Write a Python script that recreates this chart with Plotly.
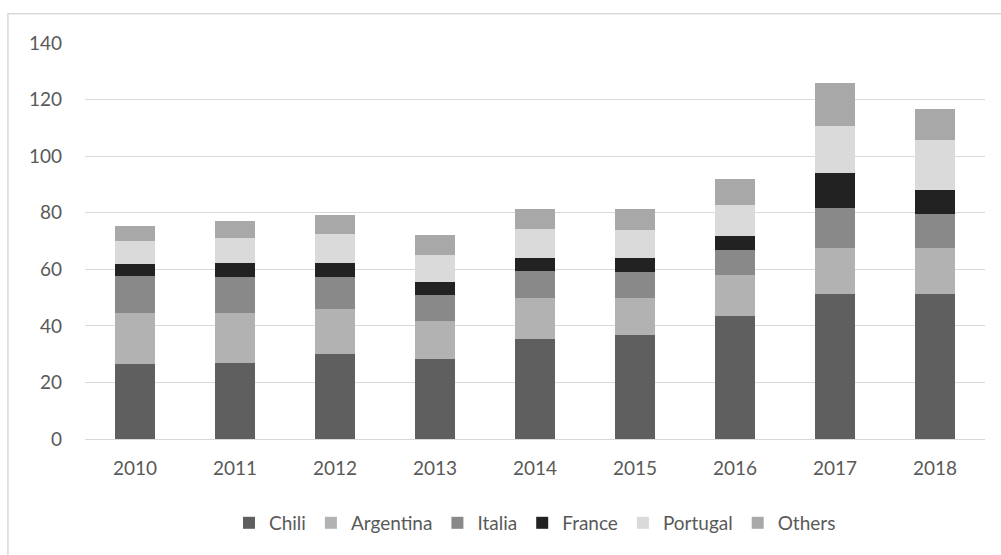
import plotly.graph_objects as go

years = ["2010", "2011", "2012", "2013", "2014", "2015", "2016", "2017", "2018"]
chili = [26.5, 26.7, 30.1, 28.3, 35.5, 36.7, 43.4, 51.2, 51.2]
argentina = [18.2, 17.8, 15.8, 13.4, 14.2, 13.0, 14.5, 16.3, 16.2]
italia = [12.9, 12.9, 11.4, 9.3, 9.8, 9.3, 8.9, 14.2, 12.1]
france = [4.2, 4.9, 4.9, 4.5, 4.6, 4.9, 5.1, 12.5, 8.4]
portugal = [8.3, 8.8, 10.1, 9.5, 10.1, 9.9, 10.8, 16.6, 17.7]
others = [5.2, 6.1, 7.0, 7.1, 7.0, 7.4, 9.3, 15.0, 10.9]

series = [
    ("Chili", chili, "#5f5f5f"),
    ("Argentina", argentina, "#b2b2b2"),
    ("Italia", italia, "#898989"),
    ("France", france, "#222222"),
    ("Portugal", portugal, "#dadada"),
    ("Others", others, "#a8a8a8"),
]

fig = go.Figure()
for name, vals, color in series:
    fig.add_trace(go.Bar(x=years, y=vals, name=name, marker=dict(color=color, line=dict(width=0)), width=0.4))

font_family = "Lato, 'Open Sans', sans-serif"
fig.update_layout(
    barmode="stack",
    width=1001,
    height=555,
    margin=dict(l=85, r=16, t=43, b=116),
    paper_bgcolor="white",
    plot_bgcolor="white",
    font=dict(family=font_family, size=19, color="#595959"),
    xaxis=dict(showgrid=False, showline=True, linecolor="#d9d9d9", linewidth=1, ticks="",
               ticklabelstandoff=12, tickfont=dict(size=19, color="#595959")),
    yaxis=dict(range=[0, 140], dtick=20, showgrid=True, gridcolor="#d9d9d9", gridwidth=1,
               zeroline=False, showline=False, ticks="", ticklabelstandoff=22,
               tickfont=dict(size=19, color="#595959")),
    legend=dict(orientation="h", x=0.5, xanchor="center", y=-0.212, yanchor="middle",
                font=dict(size=19, color="#595959"), itemwidth=30, traceorder="normal"),
    bargap=0.6,
    shapes=[dict(type="rect", xref="paper", yref="paper", x0=-0.0856, x1=1.2, y0=-0.5, y1=1.074,
                 line=dict(color="#d9d9d9", width=1.5), fillcolor="rgba(0,0,0,0)", layer="below")],
)

fig.write_html("out.html")
